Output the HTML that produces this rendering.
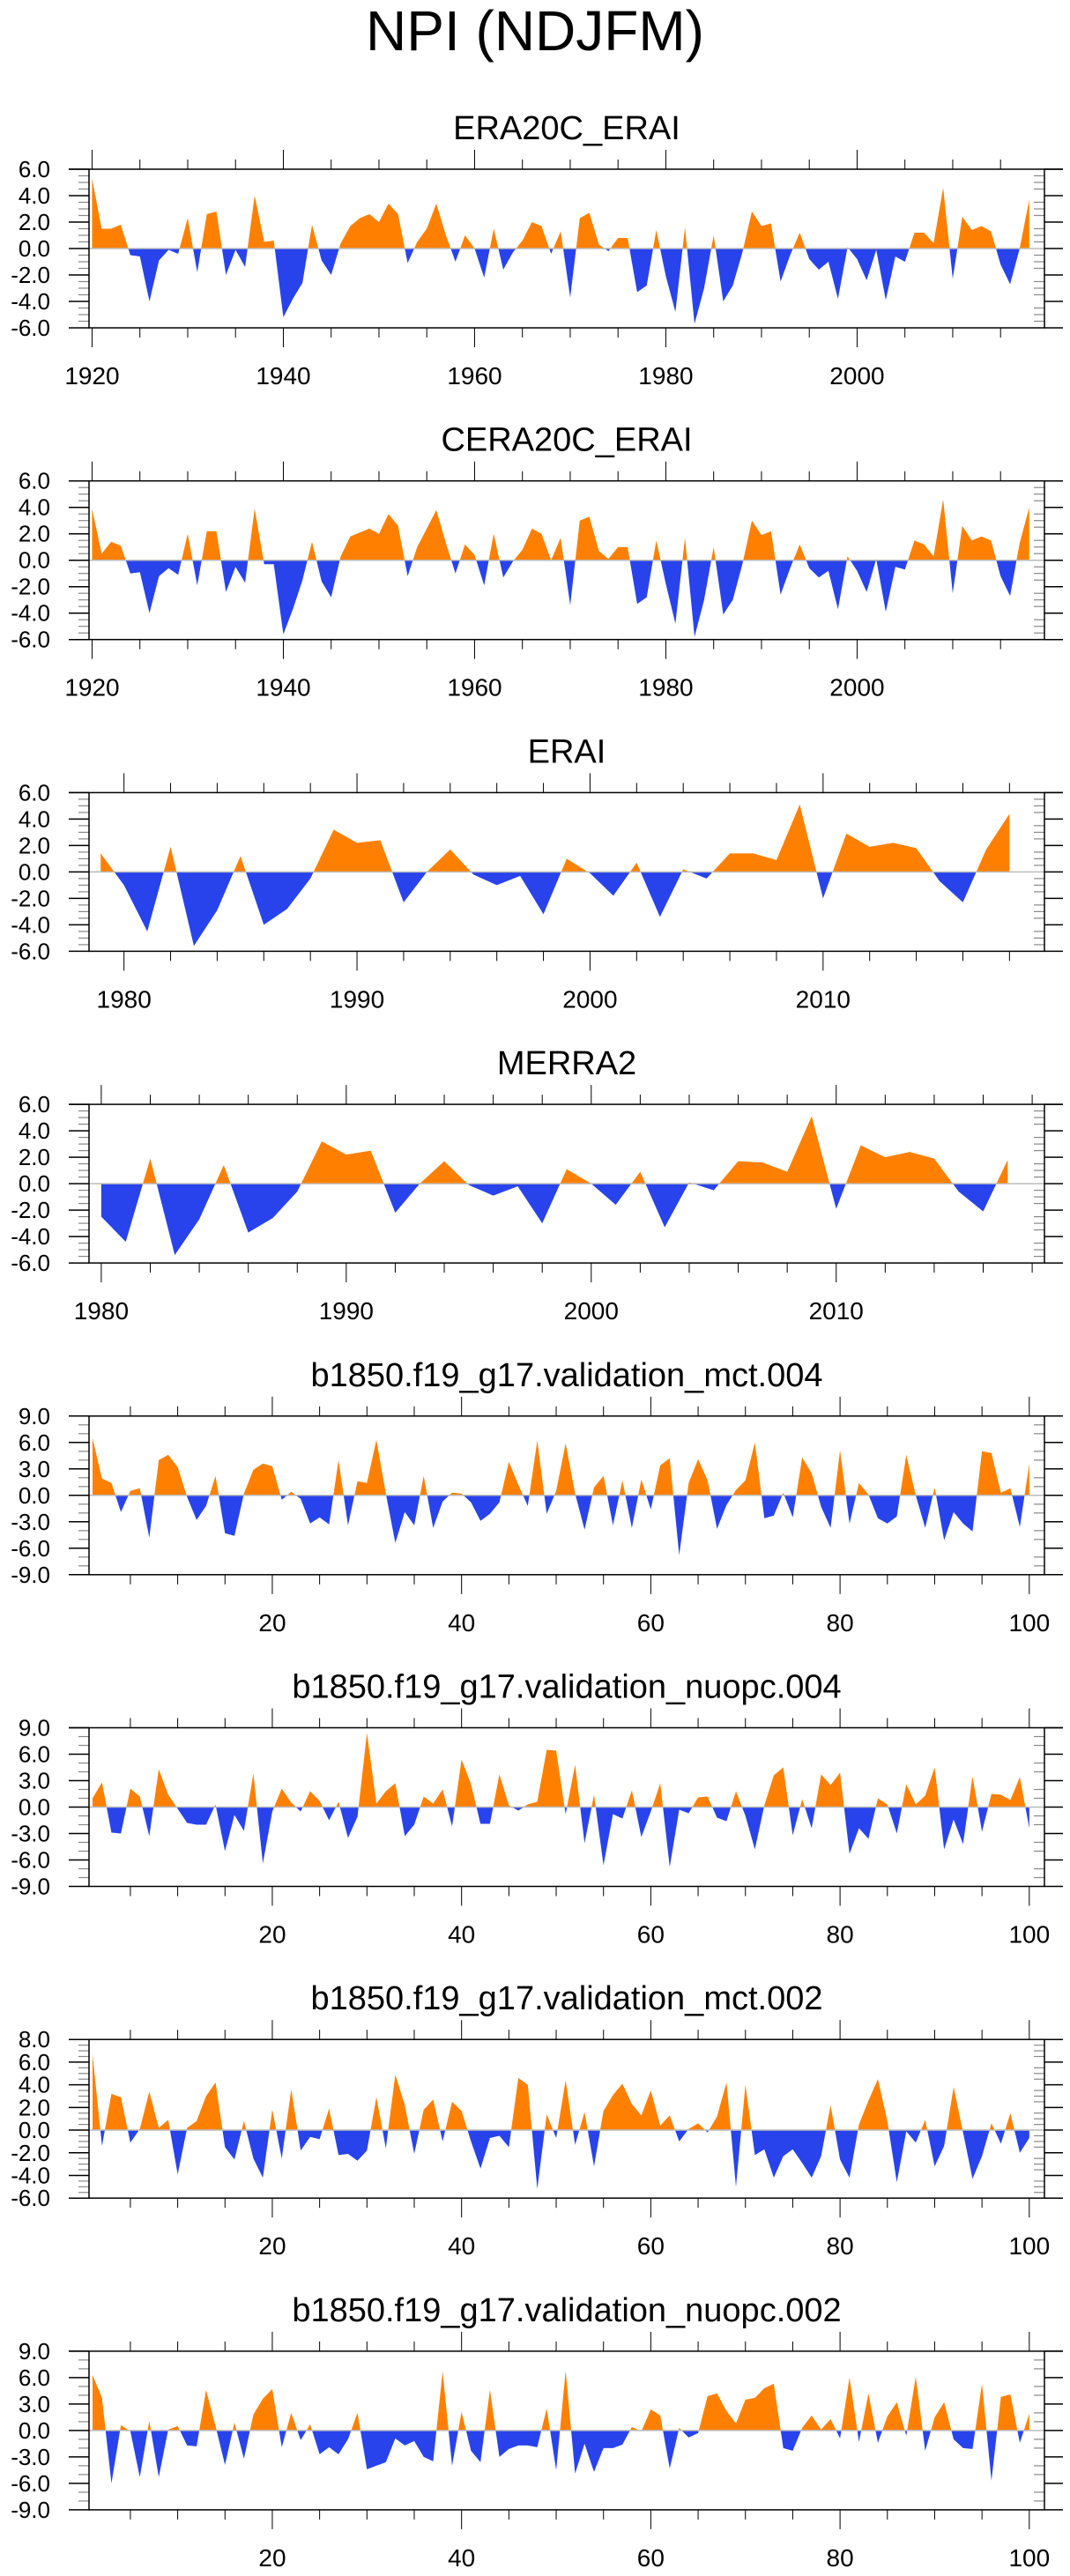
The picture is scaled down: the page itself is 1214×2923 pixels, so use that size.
<!DOCTYPE html>
<html><head><meta charset="utf-8"><title>NPI (NDJFM)</title>
<style>html,body{margin:0;padding:0;background:#fff}svg{display:block}text{font-family:"Liberation Sans",Arial,sans-serif;fill:#000}</style>
</head><body>
<svg id="chart" xmlns="http://www.w3.org/2000/svg" width="1214" height="2923" viewBox="0 0 1214 2923">
<rect width="1214" height="2923" fill="#fff"/>
<text x="607" y="57" font-size="64" text-anchor="middle">NPI (NDJFM)</text>
</svg>
<script>
const panelTitles = ["ERA20C_ERAI","CERA20C_ERAI","ERAI","MERRA2","b1850.f19_g17.validation_mct.004","b1850.f19_g17.validation_nuopc.004","b1850.f19_g17.validation_mct.002","b1850.f19_g17.validation_nuopc.002"];
const xStarts = [1920,1920,1979,1980,1,1,1,1];
const xDomains = [[1919.68,2019.59],[1919.68,2019.59],[1978.5,2019.5],[1979.5,2018.5],[0.63,101.6],[0.63,101.6],[0.63,101.6],[0.63,101.6]];
const yDomains = [[-6,6],[-6,6],[-6,6],[-6,6],[-9,9],[-9,9],[-6,8],[-9,9]];
const xTickLabels = [[1920,1940,1960,1980,2000],[1920,1940,1960,1980,2000],[1980,1990,2000,2010],[1980,1990,2000,2010],[20,40,60,80,100],[20,40,60,80,100],[20,40,60,80,100],[20,40,60,80,100]];
const xMinorStep = [5,5,2,2,5,5,5,5];
const yMajorStep = [2,2,2,2,3,3,2,3];
const yMinorStep = [0.5,0.5,0.5,0.5,1,1,0.5,1];
const seriesEra20c = [5.3,1.5,1.5,1.8,-0.5,-0.6,-4.0,-0.9,-0.1,-0.4,2.3,-1.8,2.6,2.8,-2.0,-0.1,-1.4,4.0,0.5,0.6,-5.2,-3.8,-2.6,1.8,-0.9,-2.0,0.4,1.7,2.3,2.6,2.0,3.4,2.6,-1.1,0.5,1.5,3.4,1.0,-1.0,1.0,0.0,-2.2,1.5,-1.6,-0.3,0.6,2.0,1.7,-0.4,1.3,-3.7,2.3,2.7,0.3,-0.2,0.8,0.8,-3.3,-2.8,1.4,-2.1,-4.8,1.6,-5.7,-3.0,1.0,-4.0,-2.8,-0.3,2.8,1.7,1.9,-2.5,-0.5,1.2,-0.8,-1.6,-1.0,-3.8,0.1,-0.8,-2.4,-0.1,-3.9,-0.6,-1.0,1.2,1.2,0.4,4.6,-2.3,2.4,1.4,1.7,1.3,-1.2,-2.7,0.0,3.7];
const seriesCera20c = [3.9,0.5,1.4,1.1,-1.0,-0.9,-4.0,-1.2,-0.6,-1.1,2.0,-1.9,2.2,2.2,-2.4,-0.5,-1.7,3.9,-0.3,-0.3,-5.6,-3.7,-1.5,1.4,-1.6,-2.8,0.3,1.8,2.1,2.4,2.0,3.5,2.6,-1.2,1.0,2.4,3.8,1.3,-1.0,1.2,0.4,-1.9,2.0,-1.3,-0.1,0.8,2.4,2.0,0.0,1.7,-3.4,3.0,3.3,0.7,0.1,1.0,1.0,-3.3,-2.8,1.5,-1.8,-4.8,1.7,-5.8,-3.0,1.0,-4.1,-3.0,-0.3,3.0,1.9,2.2,-2.6,-0.6,1.2,-0.6,-1.3,-0.8,-3.7,0.3,-0.8,-2.4,0.1,-3.9,-0.5,-0.7,1.5,1.2,0.3,4.6,-2.5,2.6,1.5,1.8,1.5,-1.2,-2.7,1.3,4.0];
const seriesErai = [1.4,-1.0,-4.5,1.9,-5.6,-2.9,1.2,-4.0,-2.8,-0.5,3.2,2.2,2.4,-2.3,0.0,1.7,-0.2,-1.0,-0.3,-3.2,1.0,-0.1,-1.8,0.7,-3.4,0.2,-0.5,1.4,1.4,0.9,5.1,-2.0,2.9,1.9,2.2,1.8,-0.7,-2.3,1.7,4.4];
const seriesMerra2 = [-2.5,-4.4,1.9,-5.4,-2.7,1.4,-3.7,-2.6,-0.6,3.2,2.2,2.5,-2.2,0.0,1.7,-0.1,-0.9,-0.2,-3.0,1.1,0.0,-1.6,0.9,-3.3,0.1,-0.5,1.7,1.6,0.9,5.1,-1.9,2.9,2.0,2.4,1.9,-0.6,-2.1,1.8];
const seriesMct004 = [6.5,1.9,1.4,-1.9,0.5,0.8,-4.8,4.0,4.6,3.2,-0.2,-2.8,-1.2,2.2,-4.3,-4.6,0.2,2.9,3.6,3.3,-0.5,0.4,-0.4,-3.2,-2.5,-3.3,4.0,-3.4,1.6,1.4,6.3,0.2,-5.4,-1.9,-3.4,2.2,-3.7,-0.7,0.3,0.2,-0.8,-2.9,-2.1,-0.8,3.8,1.2,-1.2,6.2,-2.1,0.5,5.9,0.2,-3.9,0.9,2.2,-3.4,1.7,-3.7,1.8,-1.6,3.4,4.2,-6.8,1.4,4.1,1.7,-3.8,-1.1,0.6,1.7,6.0,-2.6,-2.3,0.3,-2.5,4.3,2.5,-1.3,-3.7,5.1,-3.2,1.4,0.1,-2.6,-3.2,-2.4,4.6,0.0,-3.7,0.9,-5.1,-1.9,-3.2,-4.1,5.0,4.8,0.3,0.8,-3.6,3.6];
const seriesNuopc004 = [1.0,2.8,-2.9,-3.0,2.1,1.2,-3.3,4.3,1.4,-0.2,-1.8,-2.0,-2.0,0.3,-5.0,-0.9,-2.7,3.8,-6.4,-0.5,2.1,0.5,-0.5,1.8,0.7,-1.5,0.6,-3.5,-1.1,8.4,0.4,1.8,2.7,-3.3,-2.0,1.2,0.4,2.0,-2.2,5.4,2.6,-1.9,-1.9,3.7,0.2,-0.4,0.3,0.6,6.5,6.4,-0.8,4.8,-4.1,1.4,-6.6,-0.8,-1.3,1.9,-3.4,-0.5,2.7,-6.8,-0.3,-0.7,1.1,1.2,-1.2,-1.6,1.8,-1.0,-4.8,0.2,3.6,4.5,-3.2,0.9,-2.4,3.7,2.5,3.9,-5.3,-2.4,-3.6,1.0,0.3,-3.0,2.6,0.3,1.3,4.5,-4.8,-1.4,-4.2,3.5,-2.8,1.5,1.4,0.8,3.4,-2.4];
const seriesMct002 = [6.7,-1.4,3.2,2.9,-1.1,0.1,3.4,0.2,0.9,-3.9,0.2,0.8,3.0,4.2,-1.5,-2.6,0.8,-2.5,-4.2,1.8,-2.5,3.6,-1.8,-0.6,-0.8,1.9,-2.2,-2.1,-2.7,-1.8,2.9,-1.6,4.9,2.2,-2.1,1.8,2.7,-1.0,2.5,1.7,-1.0,-3.4,-0.7,-0.5,-1.5,4.6,4.0,-5.2,1.4,-0.7,4.4,-1.3,1.6,-3.2,1.7,3.1,4.1,2.3,1.3,3.5,0.4,1.3,-1.0,0.1,0.6,-0.2,1.2,4.2,-5.0,4.0,-2.2,-1.7,-4.2,-2.3,-1.7,-2.9,-4.2,-2.3,2.2,-2.6,-4.2,0.5,2.6,4.5,0.8,-4.6,-0.1,-1.1,0.9,-3.2,-1.4,3.8,-0.2,-4.3,-2.3,0.6,-1.2,1.5,-2.0,-0.7];
const seriesNuopc002 = [6.3,3.7,-6.0,0.6,-0.1,-5.3,1.1,-5.3,0.1,0.5,-1.7,-1.8,4.6,0.5,-3.9,0.9,-3.2,1.8,3.6,4.7,-1.9,2.0,-1.1,0.7,-2.7,-1.9,-2.7,-1.0,2.0,-4.4,-4.0,-3.6,-0.9,-1.7,-1.2,-3.0,-3.5,6.7,-4.0,2.1,-2.3,-3.6,4.6,-3.0,-2.1,-1.7,-1.7,-1.9,2.5,-4.5,6.8,-4.9,-1.5,-4.7,-2.0,-2.0,-1.6,0.4,-0.1,2.4,1.7,-4.3,0.3,-0.8,-0.3,3.9,4.2,2.2,0.8,3.5,3.7,4.8,5.3,-2.0,-2.3,0.3,1.7,0.1,1.3,-0.9,6.0,-1.3,4.2,-1.4,1.6,3.2,-0.6,6.1,-2.3,1.5,3.2,-1.0,-2.0,-2.1,5.3,-5.7,3.8,4.1,-1.4,1.9];
const allSeries = [seriesEra20c,seriesCera20c,seriesErai,seriesMerra2,seriesMct004,seriesNuopc004,seriesMct002,seriesNuopc002];

const NS = "http://www.w3.org/2000/svg";
const svg = document.getElementById("chart");
const PL = 101, PR = 1185, PH = 180;
function mk(tag, attrs, parent){ const e=document.createElementNS(NS,tag); for(const k in attrs) e.setAttribute(k,attrs[k]); (parent||svg).appendChild(e); return e; }
function fmt(v){ return v.toFixed(1); }

allSeries.forEach((vals, p) => {
  const top = 192 + p*353.7, bot = top + PH;
  const [x0,x1] = xDomains[p], [y0,y1] = yDomains[p];
  const xs = v => PL + (v - x0)/(x1 - x0)*(PR - PL);
  const ys = v => bot - (v - y0)/(y1 - y0)*PH;
  const g = mk("g", {});
  
  
  const t = mk("text", {x:(PL+PR)/2, y:top-34, "font-size":38, "text-anchor":"middle"}, g);
  t.textContent = panelTitles[p];
  
  
  const z = ys(0);
  // clip paths
  const cu = mk("clipPath", {id:"cu"+p}, g); mk("rect",{x:PL,y:top,width:PR-PL,height:z-top},cu);
  const cd = mk("clipPath", {id:"cd"+p}, g); mk("rect",{x:PL,y:z,width:PR-PL,height:bot-z},cd);
  let d = "M" + xs(xStarts[p]) + "," + z;
  vals.forEach((v,i) => { d += " L" + xs(xStarts[p]+i).toFixed(2) + "," + ys(v).toFixed(2); });
  d += " L" + xs(xStarts[p]+vals.length-1) + "," + z + " Z";
  const up = mk("path", {d:d, fill:"#ff8000", "clip-path":"url(#cu"+p+")"}, g);
  
  
  const dn = mk("path", {d:d, fill:"#2843ec", "clip-path":"url(#cd"+p+")"}, g);
  
  
  const zl = mk("line", {x1:PL,x2:PR,y1:z,y2:z,stroke:"#bbbbbb","stroke-width":1.5}, g);
  
  
  // y ticks
  for (let v=y0; v<=y1+1e-6; v+=yMinorStep[p]) {
    const y = ys(v);
    const isMaj = Math.abs(v/yMajorStep[p] - Math.round(v/yMajorStep[p])) < 1e-6;
    if (isMaj) {
      mk("line",{x1:78,x2:PL,y1:y,y2:y,stroke:"#000","stroke-width":1.5},g);
      mk("line",{x1:PR,x2:1206,y1:y,y2:y,stroke:"#000","stroke-width":1.5},g);
      const lab = mk("text",{x:57,y:y+9,"font-size":26,"text-anchor":"end"},g);
      lab.textContent = fmt(v);
      
      
    } else {
      mk("line",{x1:89,x2:PL,y1:y,y2:y,stroke:"#888","stroke-width":1.2},g);
      mk("line",{x1:PR-12,x2:PR,y1:y,y2:y,stroke:"#888","stroke-width":1.2},g);
    }
  }
  // x ticks
  const majors = xTickLabels[p];
  const mstep = xMinorStep[p];
  for (let v=Math.ceil(x0/mstep)*mstep; v<=x1; v+=mstep) {
    const x = xs(v);
    const isMaj = majors.indexOf(v) >= 0;
    const L = isMaj ? 22 : 11;
    mk("line",{x1:x,x2:x,y1:top-L,y2:top,stroke:"#000","stroke-width":1},g);
    mk("line",{x1:x,x2:x,y1:bot,y2:bot+L,stroke:"#000","stroke-width":1},g);
  }
  majors.forEach(v => {
    const lab = mk("text",{x:xs(v),y:bot+64,"font-size":28,"text-anchor":"middle"},g);
    lab.textContent = v;
    
    
  });
  const box = mk("rect",{x:PL,y:top,width:PR-PL,height:PH,fill:"none",stroke:"#000","stroke-width":1.5},g);
  
  
  mk("line",{x1:78,x2:PL,y1:top,y2:top,stroke:"#000","stroke-width":1.5},g);
  mk("line",{x1:PR,x2:1206,y1:top,y2:top,stroke:"#000","stroke-width":1.5},g);
});
</script>
</body></html>
